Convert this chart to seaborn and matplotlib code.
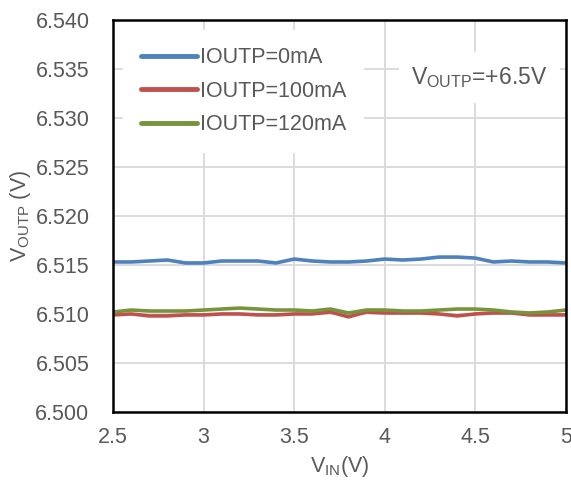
import numpy as np
import pandas as pd
import seaborn as sns
import matplotlib.pyplot as plt

# Input voltage sweep (V)
vin = [2.5, 2.6, 2.7, 2.8, 2.9, 3.0, 3.1, 3.2, 3.3, 3.4, 3.5, 3.6, 3.7,
       3.8, 3.9, 4.0, 4.1, 4.2, 4.3, 4.4, 4.5, 4.6, 4.7, 4.8, 4.9, 5.0]

# Output voltage (V) for each load current
vout_0ma = [6.5153, 6.5153, 6.5154, 6.5155, 6.5152, 6.5152, 6.5154, 6.5154,
            6.5154, 6.5152, 6.5156, 6.5154, 6.5153, 6.5153, 6.5154, 6.5156,
            6.5155, 6.5156, 6.5158, 6.5158, 6.5157, 6.5153, 6.5154, 6.5153,
            6.5153, 6.5152]
vout_100ma = [6.5099, 6.5100, 6.5098, 6.5098, 6.5099, 6.5099, 6.5100, 6.5100,
              6.5099, 6.5099, 6.5100, 6.5100, 6.5102, 6.5097, 6.5102, 6.5101,
              6.5101, 6.5101, 6.5100, 6.5098, 6.5100, 6.5101, 6.5101, 6.5099,
              6.5099, 6.5099]
vout_120ma = [6.5102, 6.5104, 6.5103, 6.5103, 6.5103, 6.5104, 6.5105, 6.5106,
              6.5105, 6.5104, 6.5104, 6.5103, 6.5105, 6.5101, 6.5104, 6.5104,
              6.5103, 6.5103, 6.5104, 6.5105, 6.5105, 6.5104, 6.5102, 6.5101,
              6.5102, 6.5104]

series_names = ["IOUTP=0mA", "IOUTP=100mA", "IOUTP=120mA"]
series_colors = ["#4f81bd", "#c0504d", "#77933c"]

x_ticks = [2.5, 3, 3.5, 4, 4.5, 5]
x_tick_labels = ["2.5", "3", "3.5", "4", "4.5", "5"]
y_ticks = [6.500, 6.505, 6.510, 6.515, 6.520, 6.525, 6.530, 6.535, 6.540]

df = pd.DataFrame({
    "vin": vin * 3,
    "vout": vout_0ma + vout_100ma + vout_120ma,
    "load": [series_names[0]] * len(vin) + [series_names[1]] * len(vin)
            + [series_names[2]] * len(vin),
})

sns.set_theme(style="white")
plt.rcParams["font.family"] = ["Liberation Sans", "DejaVu Sans"]
plt.rcParams["mathtext.fontset"] = "custom"
plt.rcParams["mathtext.rm"] = "Liberation Sans"
plt.rcParams["mathtext.it"] = "Liberation Sans"

text_color = "#595959"

fig = plt.figure(figsize=(5.71, 4.83), dpi=100)
ax = fig.add_axes([0.198, 0.147, 0.793, 0.812])

sns.lineplot(data=df, x="vin", y="vout", hue="load", hue_order=series_names,
             palette=series_colors, linewidth=2.6, ax=ax, legend=True)

ax.set_xlim(2.5, 5)
ax.set_ylim(6.500, 6.540)
ax.set_xticks(x_ticks)
ax.set_xticklabels(x_tick_labels)
ax.set_yticks(y_ticks)
ax.set_yticklabels([f"{v:.3f}" for v in y_ticks])
ax.tick_params(axis="both", labelsize=15.5, colors=text_color, length=0)
ax.tick_params(axis="y", pad=17)
ax.tick_params(axis="x", pad=11)

ax.grid(True, color="#d9d9d9", linewidth=1.3)
ax.set_axisbelow(True)
for sp in ax.spines.values():
    sp.set_color("black")
    sp.set_linewidth(1.8)

ax.set_xlabel(r"V$_{\mathrm{IN}}$(V)", fontsize=15.5, color=text_color, labelpad=4)
ax.set_ylabel(r"V$_{\mathrm{OUTP}}$ (V)", fontsize=15.5, color=text_color, labelpad=2)

leg = ax.legend(loc="upper left", bbox_to_anchor=(0.023, 0.974), frameon=True,
                fontsize=15.5, handlelength=2.6, handletextpad=0.15,
                labelspacing=0.58, borderaxespad=0.0, borderpad=0.8)
leg.get_frame().set_edgecolor("white")
leg.get_frame().set_facecolor("white")
leg.get_frame().set_alpha(1.0)
leg.get_frame().set_boxstyle("square", pad=0.0)
for line in leg.get_lines():
    line.set_linewidth(3.5)
    line.set_solid_capstyle("round")
for t in leg.get_texts():
    t.set_color(text_color)

ax.text(0.96, 0.853, r"V$_{\mathrm{OUTP}}$=+6.5V", transform=ax.transAxes,
        ha="right", va="center", fontsize=16.5, color=text_color,
        bbox=dict(facecolor="white", edgecolor="none", pad=9))

fig.savefig("out.png", dpi=100)
